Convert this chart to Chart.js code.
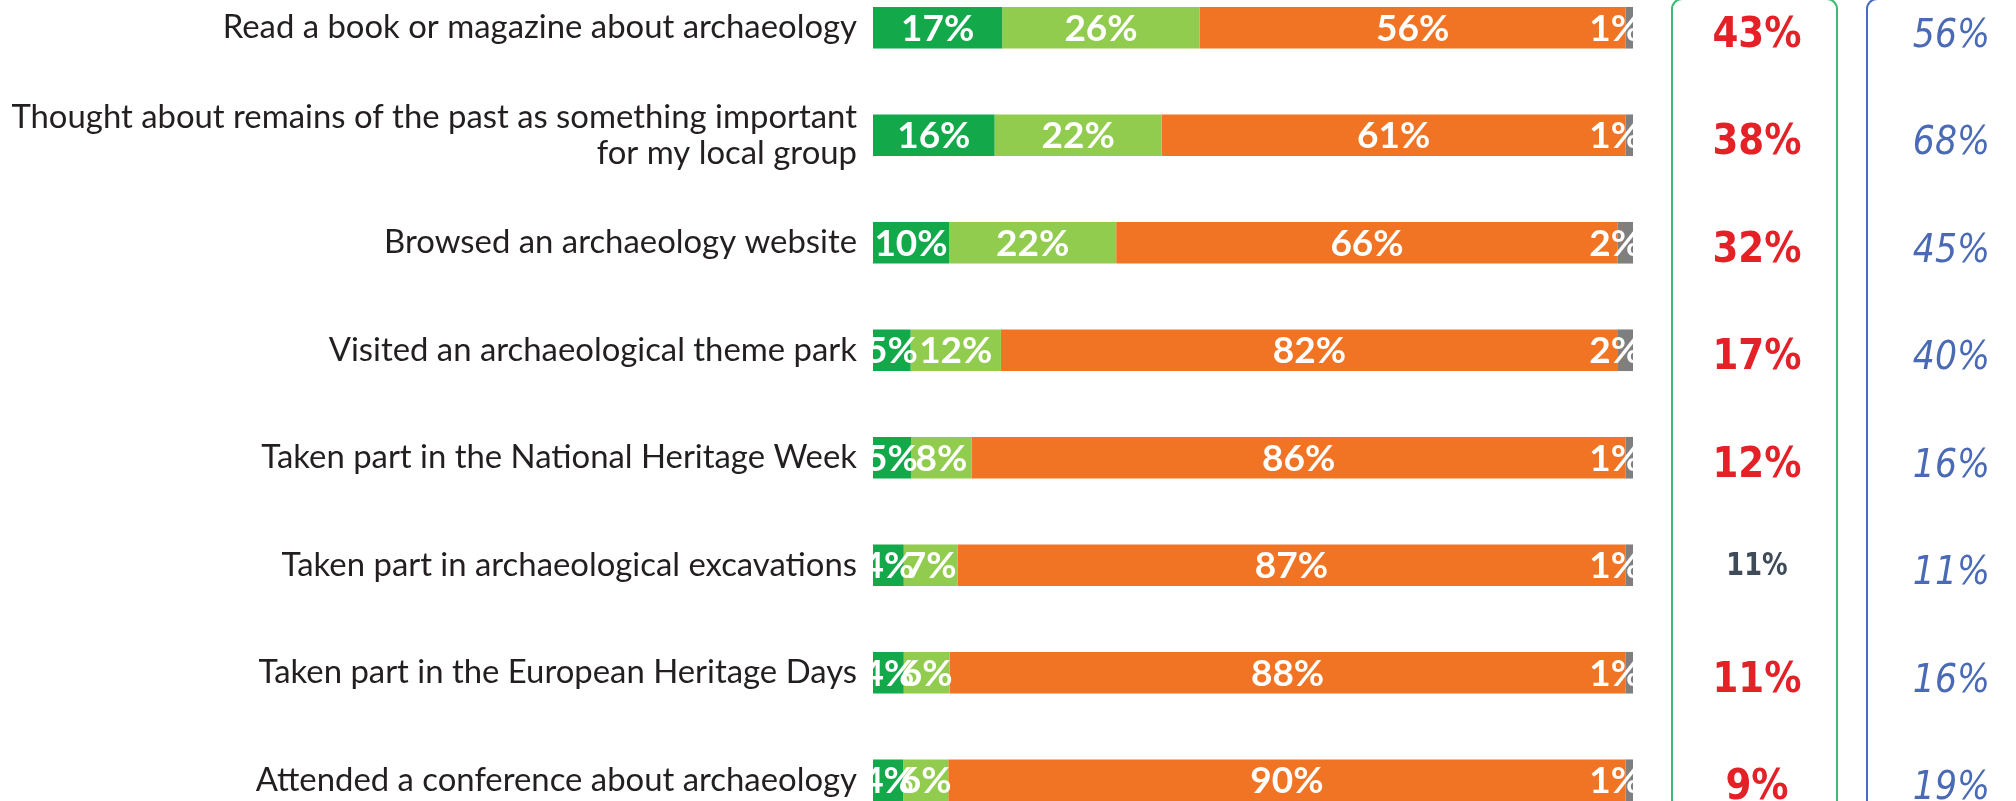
<!DOCTYPE html>
<html>
<head>
<meta charset="utf-8">
<script src="https://cdn.jsdelivr.net/npm/chart.js@4.4.1/dist/chart.umd.min.js"></script>
<style>
    html, body { margin: 0; padding: 0; background: #fff; overflow: hidden; }
    #wrap { position: absolute; left: 0; top: -26px; width: 2016px; height: 860px; }
</style>
</head>
<body>
<div id="wrap"><canvas id="chart" width="2016" height="860"></canvas></div>
<script>
const activities = [
    'Read a book or magazine about archaeology',
    ['Thought about remains of the past as something important', 'for my local group'],
    'Browsed an archaeology website',
    'Visited an archaeological theme park',
    'Taken part in the National Heritage Week',
    'Taken part in archaeological excavations',
    'Taken part in the European Heritage Days',
    'Attended a conference about archaeology'
];

// shares per answer, as printed on the bars
const oftenShare = [17, 16, 10, 5, 5, 4, 4, 4];
const sometimesShare = [26, 22, 22, 12, 8, 7, 6, 6];
const neverShare = [56, 61, 66, 82, 86, 87, 88, 90];
const noAnswerShare = [1, 1, 2, 2, 1, 1, 1, 1];

// the two columns on the right
const atLeastOnce = ['43%', '38%', '32%', '17%', '12%', '11%', '11%', '9%'];
const secondColumn = ['56%', '68%', '45%', '40%', '16%', '11%', '16%', '19%'];
const dimmedRow = 5;

const colors = {
    often: '#13a84a',
    sometimes: '#92cc4f',
    never: '#f07423',
    noAnswer: '#7f7f7f'
};

// bars are stacked to 100% like the original chart
function rowTotal(i) {
    return oftenShare[i] + sometimesShare[i] + neverShare[i] + noAnswerShare[i];
}

function asPercent(values) {
    return values.map((v, i) => v / rowTotal(i) * 100);
}

function fitFontSize(text, font, width) {
    const c = document.createElement('canvas').getContext('2d');
    c.font = `100px ${font}`;
    return 100 * width / c.measureText(text).width;
}

function drawSqueezed(ctx, text, x, y, squeeze) {
    ctx.save();
    ctx.translate(x, y);
    ctx.scale(squeeze, 1);
    ctx.fillText(text, 0, 0);
    ctx.restore();
}

const barLabels = {
    id: 'barLabels',
    afterDatasetsDraw(chart) {
        const { ctx, chartArea } = chart;
        ctx.save();
        ctx.beginPath();
        ctx.rect(chartArea.left, chartArea.top, chartArea.width, chartArea.height);
        ctx.clip();
        ctx.font = 'bold 37px Lato';
        ctx.fillStyle = '#ffffff';
        ctx.textAlign = 'center';
        ctx.textBaseline = 'alphabetic';
        chart.data.datasets.forEach((ds, d) => {
            chart.getDatasetMeta(d).data.forEach((bar, i) => {
                const text = ds.shown[i] + '%';
                const half = ctx.measureText(text).width / 2;
                // labels at the right end get pushed back in, like Excel does
                const x = Math.min((bar.x + bar.base) / 2, chartArea.right + 8 - half);
                ctx.fillText(text, x, bar.y + 13);
            });
        });
        ctx.restore();
    }
};

const sideColumns = {
    id: 'sideColumns',
    afterDraw(chart) {
        const { ctx } = chart;
        const y = chart.scales.y;
        ctx.save();

        ctx.lineWidth = 2;
        ctx.strokeStyle = '#3cbb74';
        ctx.beginPath();
        ctx.roundRect(1672, 25, 165, 900, 10);
        ctx.stroke();
        ctx.strokeStyle = '#4a6cc0';
        ctx.beginPath();
        ctx.roundRect(1867, 25, 300, 900, 10);
        ctx.stroke();

        ctx.textBaseline = 'alphabetic';
        atLeastOnce.forEach((txt, i) => {
            const cy = y.getPixelForValue(i);
            ctx.textAlign = 'center';
            if (i === dimmedRow) {
                ctx.font = 'bold 32px "DejaVu Sans"';
                ctx.fillStyle = '#3f4b58';
                drawSqueezed(ctx, txt, 1757, cy + 9.5, 0.8);
            } else {
                ctx.font = 'bold 43px "DejaVu Sans"';
                ctx.fillStyle = '#e42127';
                drawSqueezed(ctx, txt, 1757, cy + 19, 0.865);
            }
        });

        ctx.font = 'oblique 39px "DejaVu Sans"';
        ctx.fillStyle = '#4a6ab5';
        ctx.textAlign = 'right';
        secondColumn.forEach((txt, i) => {
            drawSqueezed(ctx, txt, 1990, y.getPixelForValue(i) + 19, 0.89);
        });
        ctx.restore();
    }
};

function makeSet(label, values, color) {
    return {
        label: label,
        data: asPercent(values),
        shown: values,
        backgroundColor: color,
        borderWidth: 0,
        barPercentage: 0.387,
        categoryPercentage: 1
    };
}

function initChart() {
    const labelSize = fitFontSize(activities[1][0], 'Lato', 846);
    const ctx = document.getElementById('chart').getContext('2d');
    window.activityChart = new Chart(ctx, {
        type: 'bar',
        data: {
            labels: activities,
            datasets: [
                makeSet('Often', oftenShare, colors.often),
                makeSet('Sometimes', sometimesShare, colors.sometimes),
                makeSet('Never', neverShare, colors.never),
                makeSet('No answer', noAnswerShare, colors.noAnswer)
            ]
        },
        options: {
            indexAxis: 'y',
            responsive: false,
            animation: false,
            layout: { padding: { left: 0, right: 383, top: 0, bottom: 0 } },
            plugins: {
                legend: { display: false },
                tooltip: { enabled: false }
            },
            scales: {
                x: { stacked: true, display: false, min: 0, max: 100 },
                y: {
                    stacked: true,
                    grid: { display: false, drawTicks: false },
                    border: { display: false },
                    ticks: {
                        color: '#231f20',
                        padding: 16,
                        font: { family: 'Lato', size: labelSize, lineHeight: '36px' }
                    },
                    afterFit(scale) {
                        // keep the plot area flush with the canvas edges
                        scale.width = 873;
                        scale.paddingTop = 0;
                        scale.paddingBottom = 0;
                    }
                }
            }
        },
        plugins: [barLabels, sideColumns]
    });
}

window.onload = initChart;
</script>
</body>
</html>
